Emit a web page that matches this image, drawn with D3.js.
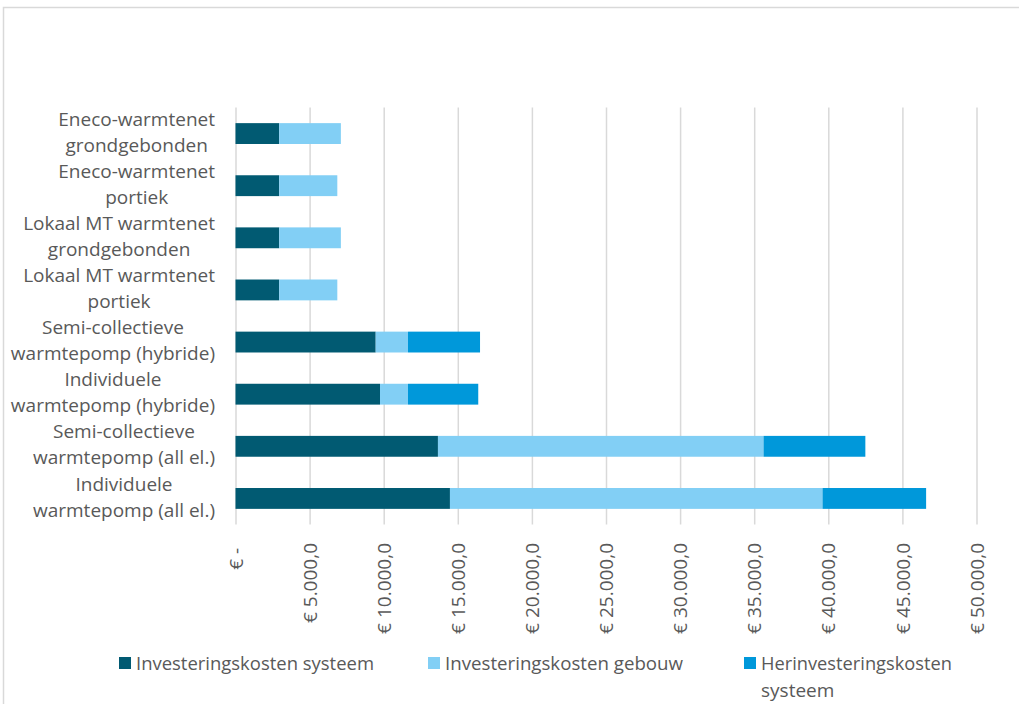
<!DOCTYPE html>
<html>
<head>
<meta charset="utf-8">
<script src="https://cdn.jsdelivr.net/npm/d3@7"></script>
<style>
  body { margin: 0; background: #fff; }
  text { font-family: 'Open Sans', sans-serif; fill: #595959; }
</style>
</head>
<body>
<svg width="1019" height="704"></svg>
<script>
// Categories, top to bottom (line breaks as in the original labels)
var categories = [
    'Eneco-warmtenet\ngrondgebonden',
    'Eneco-warmtenet\nportiek',
    'Lokaal MT warmtenet\ngrondgebonden',
    'Lokaal MT warmtenet\nportiek',
    'Semi-collectieve\nwarmtepomp (hybride)',
    'Individuele\nwarmtepomp (hybride)',
    'Semi-collectieve\nwarmtepomp (all el.)',
    'Individuele\nwarmtepomp (all el.)'
];

// Series values (euro)
var systeem = [2950, 2950, 2950, 2950, 9460, 9750, 13660, 14470];
var gebouw = [4160, 3920, 4160, 3920, 2180, 1890, 21970, 25140];
var herinvestering = [0, 0, 0, 0, 4860, 4740, 6870, 6990];

var seriesNames = ['Investeringskosten systeem', 'Investeringskosten gebouw', 'Herinvesteringskosten\nsysteem'];
var xTicks = [0, 5000, 10000, 15000, 20000, 25000, 30000, 35000, 40000, 45000, 50000];

var colors = ['#015a72', '#82cff5', '#0098da'];
var keys = ['systeem', 'gebouw', 'herinvestering'];

var svg = d3.select('svg');

// chart frame
svg.append('rect')
    .attr('x', 3.5).attr('y', 7.5)
    .attr('width', 1040).attr('height', 720)
    .attr('fill', 'none')
    .attr('stroke', '#d9d9d9')
    .attr('stroke-width', 1.5);

var plot = {l: 235.5, r: 976.5, t: 107.5, b: 524.5};

var x = d3.scaleLinear()
    .domain([0, 50000])
    .range([plot.l, plot.r]);

var y = d3.scaleBand()
    .domain(categories)
    .range([plot.t, plot.b])
    .paddingInner(0.6)
    .paddingOuter(0.3);

var table = categories.map(function(c, i) {
    return {cat: c, systeem: systeem[i], gebouw: gebouw[i], herinvestering: herinvestering[i]};
});
var stacked = d3.stack().keys(keys)(table);

// number format like "€ 5.000,0"
var nl = d3.formatLocale({decimal: ',', thousands: '.', grouping: [3], currency: ['€ ', '']});
var fmt = nl.format('$,.1f');

// gridlines + tick labels
var xAxis = d3.axisBottom(x)
    .tickValues(xTicks)
    .tickSize(-(plot.b - plot.t))
    .tickFormat(function(d) { return d === 0 ? '€ -\u00a0' : fmt(d); });

var axisG = svg.append('g')
    .attr('transform', 'translate(0,' + plot.b + ')')
    .call(xAxis);

axisG.select('.domain').remove();
axisG.selectAll('.tick line')
    .attr('stroke', '#d9d9d9')
    .attr('stroke-width', 1.5);
axisG.selectAll('.tick text')
    .attr('transform', 'rotate(-90)')
    .attr('x', -18.5)
    .attr('y', 0)
    .attr('dy', '0.35em')
    .attr('text-anchor', 'end')
    .style('font-family', "'Open Sans', sans-serif")
    .style('font-size', '19px')
    .attr('fill', '#595959');

// bars
svg.append('g').selectAll('g')
    .data(stacked)
    .enter().append('g')
    .attr('fill', function(d, i) { return colors[i]; })
    .selectAll('rect')
    .data(function(d) { return d; })
    .enter().append('rect')
    .attr('x', function(d) { return x(d[0]); })
    .attr('y', function(d) { return y(d.data.cat); })
    .attr('width', function(d) { return x(d[1]) - x(d[0]); })
    .attr('height', y.bandwidth());

// category labels: lines centred on each other, block right-aligned
var labelRight = 215;
var lineGap = 26;
categories.forEach(function(c) {
    var lines = c.split('\n');
    var cy = y(c) + y.bandwidth() / 2 - 1.5;
    var g = svg.append('g');
    var texts = lines.map(function(line, j) {
        return g.append('text')
            .attr('y', cy + (j - (lines.length - 1) / 2) * lineGap)
            .attr('dy', '0.35em')
            .attr('text-anchor', 'middle')
            .style('font-size', '19px')
            .text(line);
    });
    var w = d3.max(texts, function(t) { return t.node().getComputedTextLength(); });
    texts.forEach(function(t) { t.attr('x', labelRight - w / 2); });
});

// legend
var legendX = [119, 428, 744];
var legendWidths = [238, 238, 191];
var legendY = 663;
seriesNames.forEach(function(name, i) {
    var g = svg.append('g').attr('transform', 'translate(' + legendX[i] + ',' + legendY + ')');
    g.append('rect')
        .attr('x', 0).attr('y', -6)
        .attr('width', 12).attr('height', 12)
        .attr('fill', colors[i]);
    name.split('\n').forEach(function(line, j) {
        var t = g.append('text')
            .attr('x', 17)
            .attr('y', j * 27)
            .attr('dy', '0.35em')
            .style('font-size', '19px')
            .text(line);
        if (j === 0) t.attr('textLength', legendWidths[i]).attr('lengthAdjust', 'spacingAndGlyphs');
    });
});
</script>
</body>
</html>
